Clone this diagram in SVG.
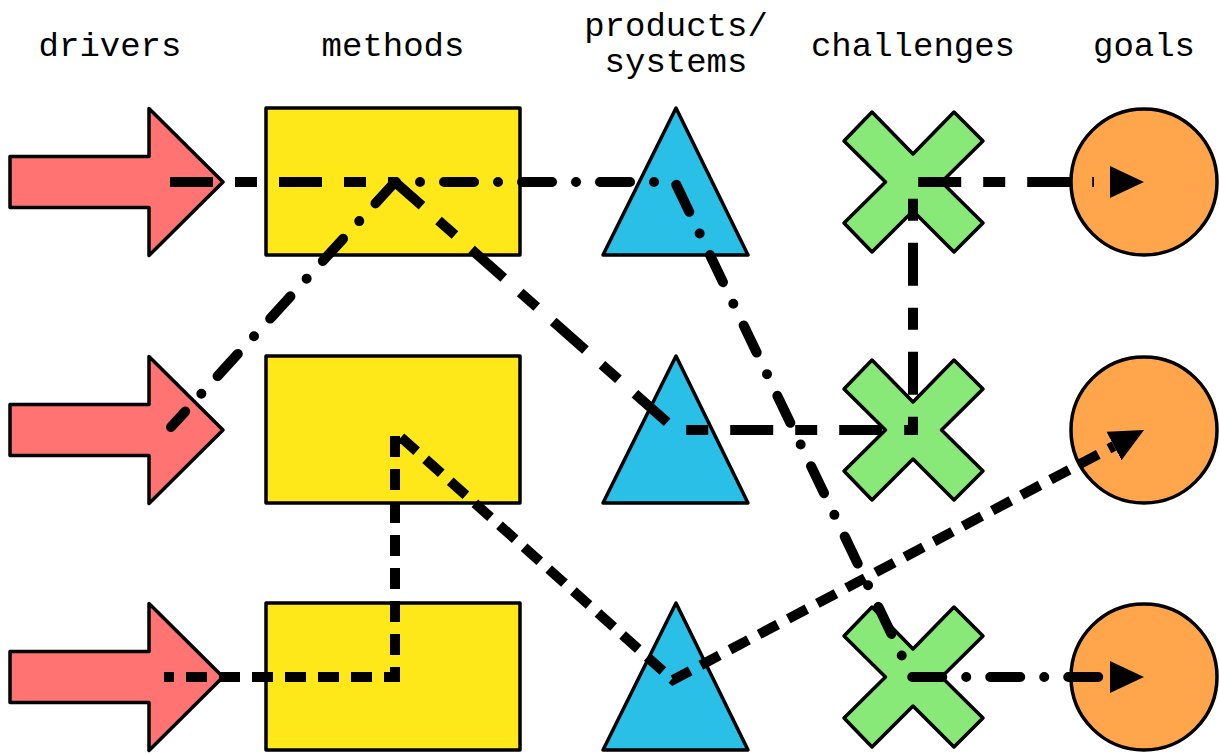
<svg xmlns="http://www.w3.org/2000/svg" width="1219" height="753" viewBox="0 0 1219 753">
  <style>
    .lbl { font-family: "Liberation Mono", "DejaVu Sans Mono", monospace; font-size: 34px; fill: #000; text-anchor: middle; }
    .drv { fill: #FF7373; stroke: #000; stroke-width: 3.5; stroke-linejoin: round; }
    .mth { fill: #FFE81A; stroke: #000; stroke-width: 3.5; stroke-linejoin: round; }
    .prd { fill: #29BFE6; stroke: #000; stroke-width: 3.5; stroke-linejoin: round; }
    .chl { fill: #88E878; stroke: #000; stroke-width: 3.5; stroke-linejoin: round; }
    .gol { fill: #FFA64D; stroke: #000; stroke-width: 3.5; }
    .con { fill: none; stroke: #000; stroke-width: 10; }
    .dashdot { stroke-dasharray: 30 24 0 24; stroke-dashoffset: 9; stroke-linecap: round; stroke-linejoin: round; }
    .longdash { stroke-dasharray: 43 22 22 22; stroke-linecap: butt; stroke-linejoin: miter; }
    .dense { stroke-dasharray: 21 12; stroke-dashoffset: 11; stroke-linecap: butt; stroke-linejoin: miter; }
  </style>
  <defs>
    <path id="drvShape" d="M10,-25.5 L149,-25.5 L149,-73.5 L223,0 L149,73.5 L149,25.5 L10,25.5 Z"/>
    <path id="xShape" d="M-69,-41 L-41,-70 L0,-28 L41,-70 L70,-41 L28.5,0 L70,41 L41,70 L0,29 L-41,70 L-69,41 L-27.5,0 Z"/>
    <path id="triShape" d="M676,-74 L748,73 L603,73 Z"/>
    <marker id="arrow" markerUnits="userSpaceOnUse" markerWidth="36" markerHeight="34" viewBox="0 -17 36 34" refX="0" refY="0" orient="auto">
      <path d="M0,-16 L34,0 L0,16 Z" fill="#000"/>
    </marker>
    <marker id="arrowFar" markerUnits="userSpaceOnUse" markerWidth="36" markerHeight="34" viewBox="0 -17 36 34" refX="-16" refY="0" orient="auto">
      <path d="M0,-16 L34,0 L0,16 Z" fill="#000"/>
    </marker>
  </defs>

  <g id="labels">
    <text class="lbl" x="110" y="56">drivers</text>
    <text class="lbl" x="393" y="56">methods</text>
    <text class="lbl" x="676" y="36">products/</text>
    <text class="lbl" x="676" y="72">systems</text>
    <text class="lbl" x="913" y="56">challenges</text>
    <text class="lbl" x="1144" y="56">goals</text>
  </g>

  <g id="driver1"><use href="#drvShape" class="drv" transform="translate(0,182)"/></g>
  <g id="driver2"><use href="#drvShape" class="drv" transform="translate(0,430)"/></g>
  <g id="driver3"><use href="#drvShape" class="drv" transform="translate(0,677)"/></g>

  <g id="method1"><rect class="mth" x="266" y="108" width="254" height="147"/></g>
  <g id="method2"><rect class="mth" x="266" y="356" width="254" height="147"/></g>
  <g id="method3"><rect class="mth" x="266" y="603" width="254" height="147"/></g>

  <g id="product1"><use href="#triShape" class="prd" transform="translate(0,182)"/></g>
  <g id="product2"><use href="#triShape" class="prd" transform="translate(0,430)"/></g>
  <g id="product3"><use href="#triShape" class="prd" transform="translate(0,677)"/></g>

  <g id="challenge1"><use href="#xShape" class="chl" transform="translate(913,182)"/></g>
  <g id="challenge2"><use href="#xShape" class="chl" transform="translate(913,430)"/></g>
  <g id="challenge3"><use href="#xShape" class="chl" transform="translate(913,677)"/></g>

  <g id="goal1"><circle class="gol" cx="1144" cy="182" r="73"/></g>
  <g id="goal2"><circle class="gol" cx="1144" cy="430" r="73"/></g>
  <g id="goal3"><circle class="gol" cx="1144" cy="677" r="73"/></g>

  <g id="connectors">
    <path class="con longdash" d="M170,182 L395,182 L676,430 L913,430 L913,182 L1094,182" marker-end="url(#arrowFar)"/>
    <path class="con dashdot" d="M171,427 L395,182 L675,182 L912,677 L1110,677" marker-end="url(#arrow)"/>
    <path class="con dense" d="M164,677 L395,677 L395,432 L673,680 L1114,446" marker-end="url(#arrow)"/>
  </g>
</svg>
